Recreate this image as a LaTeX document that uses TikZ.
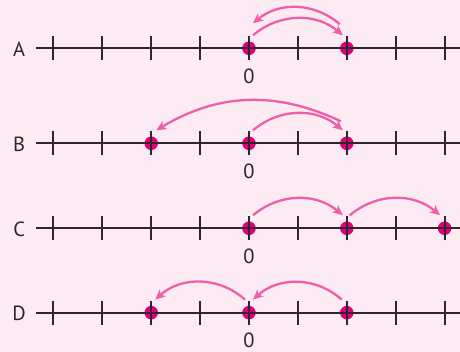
\documentclass[tikz,border=0pt]{standalone}
\usepackage{fontspec}
\setmainfont{PT Sans}
\usetikzlibrary{arrows.meta}
\definecolor{bgpink}{HTML}{FDEBF4}
\definecolor{dotmag}{HTML}{E2007A}
\definecolor{hoppink}{HTML}{EE5FA7}
\definecolor{axisgray}{HTML}{2E262A}

\begin{document}
\begin{tikzpicture}[x=48.9pt,y=48.9pt,
  dot/.style={circle,fill=dotmag,inner sep=0pt,minimum size=13.6pt},
  hop/.style={hoppink,line width=2.3pt,-{Stealth[length=10pt,width=9pt,inset=2.5pt]}},
  axis/.style={axisgray,line width=1.8pt},
  lab/.style={font=\fontsize{20.5}{24}\selectfont,text=axisgray,inner sep=0pt}]
  \fill[bgpink] (-5.092,0) rectangle (4.315,7.198);
  \useasboundingbox (-5.092,0) rectangle (4.315,7.198);
  % points on the lines
  \node[dot] (A0) at (0,6.211) {};
  \node[dot] (A2) at (2,6.211) {};
  \node[dot] (Bm2) at (-2,4.268) {};
  \node[dot] (B0) at (0,4.268) {};
  \node[dot] (B2) at (2,4.268) {};
  \node[dot] (C0) at (0,2.530) {};
  \node[dot] (C2) at (2,2.530) {};
  \node[dot] (C4) at (4,2.530) {};
  \node[dot] (Dm2) at (-2,0.804) {};
  \node[dot] (D0) at (0,0.804) {};
  \node[dot] (D2) at (2,0.804) {};
  % number lines
  \foreach \row/\y in {A/6.211,B/4.268,C/2.530,D/0.804}{
    \draw[axis] (-4.356,\y)--(4.315,\y);
    \foreach \t in {-4,...,4} \draw[axis] (\t,\y-0.245)--(\t,\y+0.245);
    \node[lab] (\row) at (-4.70,\y-0.02) {\row};
    \node[lab] (\row zero) at (0,\y-0.57) {0};
  }
  % hops
  \draw[hop] ([shift={(4pt,13pt)}]A0.center) to[bend left=40] ([shift={(-4pt,13pt)}]A2.center);
  \draw[hop] ([shift={(-7pt,24pt)}]A2.center) to[bend right=40] ([shift={(4pt,25pt)}]A0.center);
  \draw[hop] ([shift={(4pt,13pt)}]B0.center) to[bend left=40] ([shift={(-4pt,13pt)}]B2.center);
  \draw[hop] ([shift={(-6pt,22pt)}]B2.center) to[bend right=28] ([shift={(5pt,13pt)}]Bm2.center);
  \draw[hop] ([shift={(4pt,13pt)}]C0.center) to[bend left=40] ([shift={(-4pt,13pt)}]C2.center);
  \draw[hop] ([shift={(3pt,13pt)}]C2.center) to[bend left=40] ([shift={(-4.5pt,13pt)}]C4.center);
  \draw[hop] ([shift={(-5pt,13pt)}]D2.center) to[bend right=42] ([shift={(4pt,13pt)}]D0.center);
  \draw[hop] ([shift={(-4pt,13pt)}]D0.center) to[bend right=42] ([shift={(4pt,13pt)}]Dm2.center);
\end{tikzpicture}
\end{document}
